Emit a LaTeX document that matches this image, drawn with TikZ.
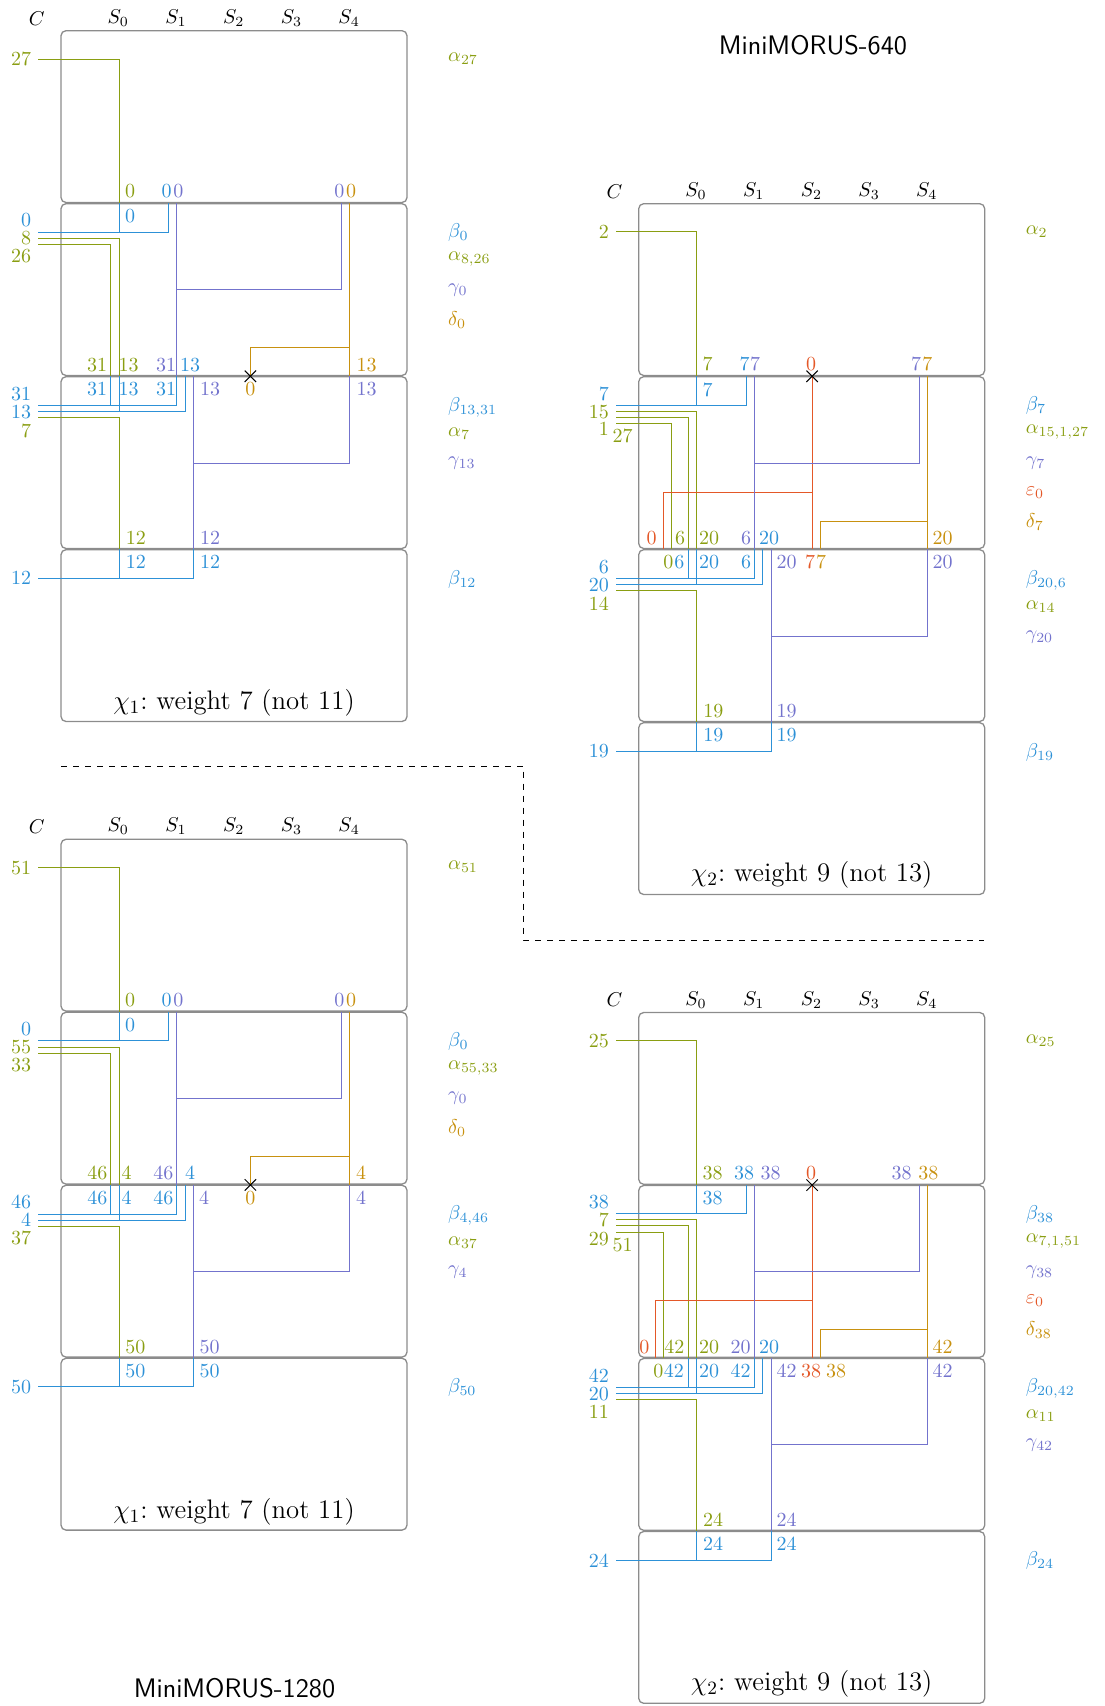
\RequirePackage{fix-cm}
\documentclass[tikz,border=0pt]{standalone}
\usetikzlibrary{shapes.misc}
\definecolor{cA}{RGB}{138,158,18}
\definecolor{cB}{RGB}{45,145,215}
\definecolor{cG}{RGB}{115,115,205}
\definecolor{cD}{RGB}{200,145,15}
\definecolor{cE}{RGB}{228,88,40}
% columns S_0..S_4, offset between neighbouring bits, round boundaries
\newcommand*{\sz}{119}
\newcommand*{\sone}{176.7}
\newcommand*{\stwo}{234.4}
\newcommand*{\sfour}{349.8}
\newcommand*{\dx}{8.3}
\newcommand*{\rowa}{203.3}
\newcommand*{\rowb}{376.3}
\newcommand*{\rowc}{549.3}
\newcommand*{\header}{%
  \node at (36.7,18.3) {$C$};
  \foreach \k in {0,...,4} \node at ({118.3+57.7*\k},18) {$S_{\k}$};
  \foreach \k in {0,...,3} \draw[boxline] (61,{30.7+173*\k}) rectangle (407,{202.5+173*\k});
}
\begin{document}
\begin{tikzpicture}[x=0.5pt,y=-0.5pt,line width=0.5pt,inner sep=1pt,
  boxline/.style={draw=black!45,line width=0.65pt,rounded corners=2.5pt},
  cut/.style={draw,cross out,minimum size=5.2pt,inner sep=0pt},
  big/.style={font=\fontsize{13.4}{16}\selectfont}]
\useasboundingbox (0,0) rectangle (1104,1706);

\node[font=\sffamily\fontsize{13.4}{16}\selectfont] (t640) at (813,45.5) {MiniMORUS-640};
\node[font=\sffamily\fontsize{13.4}{16}\selectfont] (t1280) at (234.5,1688) {MiniMORUS-1280};
\draw[dashed] (61,766) -| (523.5,940) -- (984.3,940);

%%% MiniMORUS-640, chi_1
\begin{scope}
\header
% round 1
\node[cA,left] at (33.6,59) {27};
\draw[cA] (38.3,59.3) -| (\sz,\rowa);
\node[cA] at (130,191.3) {0};
\node[cB] at (166.7,191.3) {0};
\node[cG] at (178.3,191.3) {0};
\node[cG] at (339.3,191.3) {0};
\node[cD] at (351,191.3) {0};
\node[cA,right] at (445.7,58.5) {$\alpha_{27}$};
% round 2
\node[cB,left] at (33.6,220) {0};
\node[cA,left] at (33.6,238.3) {8};
\node[cA,left] at (33.6,256.5) {26};
\draw[cB] (38.3,232.3) -| (\sone-\dx,\rowa) (\sz,\rowa) -- (\sz,232.3);
\draw[cA] (38.3,238.3) -| (\sz,\rowb);
\draw[cA] (38.3,244.3) -| (\sz-\dx,\rowb);
\draw[cG] (\sone,\rowa) -- (\sone,\rowb) (\sone,289.5) -| (\sfour-\dx,\rowa);
\draw[cD] (\sfour,\rowa) -- (\sfour,\rowb) (\sfour,347.7) -| (\stwo+16,\rowb);
\node[cut] at (\stwo+16,\rowb) {};
\node[cB] at (130,216.5) {0};
\node[cB,right] at (445.7,232.7) {$\beta_{0}$};
\node[cA,right] at (445.7,259.5) {$\alpha_{8,26}$};
\node[cG,right] at (445.7,289.8) {$\gamma_{0}$};
\node[cD,right] at (445.7,319.6) {$\delta_{0}$};
\node[cA] at (97,365) {31};
\node[cA] at (128.7,365) {13};
\node[cG] at (166.2,365) {31};
\node[cB] at (190,365) {13};
\node[cD] at (366.7,365) {13};
\node[cB] at (97,389.3) {31};
\node[cB] at (128.7,389.3) {13};
\node[cB] at (166.2,389.3) {31};
\node[cG] at (210,389.3) {13};
\node[cD] at (250.3,389.3) {0};
\node[cG] at (366.7,389.3) {13};
% round 3
\node[cB,left] at (33.6,394.3) {31};
\node[cB,left] at (33.6,412.5) {13};
\node[cA,left] at (33.6,430.7) {7};
\draw[cB] (38.3,405) -| (\sone,\rowb) (\sz-\dx,\rowb) -- (\sz-\dx,405);
\draw[cB] (38.3,411) -| (\sone+\dx,\rowb) (\sz,\rowb) -- (\sz,411);
\draw[cA] (38.3,417.3) -| (\sz,\rowc);
\draw[cG] (\sone+2*\dx,\rowb) -- (\sone+2*\dx,\rowc) (\sone+2*\dx,463.3) -| (\sfour,\rowb);
\node[cB,right] at (445.7,407) {$\beta_{13,31}$};
\node[cA,right] at (445.7,434) {$\alpha_{7}$};
\node[cG,right] at (445.7,463.5) {$\gamma_{13}$};
\node[cA] at (135.8,538) {12};
\node[cG] at (210,538) {12};
\node[cB] at (135.8,562) {12};
\node[cB] at (210,562) {12};
% round 4
\node[cB,left] at (33.6,578.3) {12};
\draw[cB] (38.3,578.3) -| (\sone+2*\dx,\rowc) (\sz,\rowc) -- (\sz,578.3);
\node[cB,right] at (445.7,579) {$\beta_{12}$};
\node[big] (chiA) at (234,703) {$\chi_1$:\ weight 7 (not 11)};
\end{scope}

%%% MiniMORUS-640, chi_2
\begin{scope}[shift={(577.7,173)}]
\header
% round 1
\node[cA,left] at (33.6,58.7) {2};
\draw[cA] (38.3,58.7) -| (\sz,\rowa);
\node[cA] at (130,191.3) {7};
\node[cB] at (167,191.3) {7};
\node[cG] at (177.3,191.3) {7};
\node[cE] at (233.3,191.3) {0};
\node[cG] at (338.5,191.3) {7};
\node[cD] at (349.6,191.3) {7};
\node[cA,right] at (445.7,58.5) {$\alpha_{2}$};
% round 2
\node[cB,left] at (33.6,221) {7};
\node[cA,left] at (33.6,239.3) {15};
\node[cA,left] at (33.6,256.3) {1};
\node[cA] at (45,262.7) {27};
\draw[cB] (38.3,232.3) -| (\sone-\dx,\rowa) (\sz,\rowa) -- (\sz,232.3);
\draw[cA] (38.3,238) -| (\sz,\rowb);
\draw[cA] (38.3,244) -| (\sz-\dx,\rowb);
\draw[cA] (38.3,250.3) -| (\sz-3*\dx,\rowb);
\draw[cE] (\stwo,\rowa) -- (\stwo,\rowb) (\stwo,319) -| (\sz-4*\dx,\rowb);
\draw[cG] (\sone,\rowa) -- (\sone,\rowb) (\sone,290.3) -| (\sfour-\dx,\rowa);
\draw[cD] (\sfour,\rowa) -- (\sfour,\rowb) (\sfour,348) -| (\stwo+\dx,\rowb);
\node[cut] at (\stwo,\rowa) {};
\node[cB] at (130,216.5) {7};
\node[cB,right] at (445.7,232.5) {$\beta_{7}$};
\node[cA,right] at (445.7,259) {$\alpha_{15,1,27}$};
\node[cG,right] at (445.7,290) {$\gamma_{7}$};
\node[cE,right] at (445.7,319.3) {$\varepsilon_{0}$};
\node[cD,right] at (445.7,348.7) {$\delta_{7}$};
\node[cE] at (74,365) {0};
\node[cA] at (102.3,365) {6};
\node[cA] at (131.3,365) {20};
\node[cG] at (168.5,365) {6};
\node[cB] at (191.3,365) {20};
\node[cD] at (365,365) {20};
\node[cA] at (90.6,389.3) {0};
\node[cB] at (101.6,389.3) {6};
\node[cB] at (131.3,389.3) {20};
\node[cB] at (168.5,389.3) {6};
\node[cG] at (209,389.3) {20};
\node[cE] at (232.3,389.3) {7};
\node[cD] at (243.3,389.3) {7};
\node[cG] at (365,389.3) {20};
% round 3
\node[cB,left] at (33.6,393.7) {6};
\node[cB,left] at (33.6,412) {20};
\node[cA,left] at (33.6,430.3) {14};
\draw[cB] (38.3,405.3) -| (\sone,\rowb) (\sz-\dx,\rowb) -- (\sz-\dx,405.3);
\draw[cB] (38.3,411.3) -| (\sone+\dx,\rowb) (\sz,\rowb) -- (\sz,411.3);
\draw[cA] (38.3,417.7) -| (\sz,\rowc);
\draw[cG] (\sone+2*\dx,\rowb) -- (\sone+2*\dx,\rowc) (\sone+2*\dx,463.7) -| (\sfour,\rowb);
\node[cB,right] at (445.7,407) {$\beta_{20,6}$};
\node[cA,right] at (445.7,433.7) {$\alpha_{14}$};
\node[cG,right] at (445.7,463.7) {$\gamma_{20}$};
\node[cA] at (135.6,538) {19};
\node[cG] at (209,538) {19};
\node[cB] at (135.6,562) {19};
\node[cB] at (209,562) {19};
% round 4
\node[cB,left] at (33.6,578.5) {19};
\draw[cB] (38.3,578.5) -| (\sone+2*\dx,\rowc) (\sz,\rowc) -- (\sz,578.5);
\node[cB,right] at (445.7,579.3) {$\beta_{19}$};
\node[big] (chiB) at (234,702) {$\chi_2$:\ weight 9 (not 13)};
\end{scope}

%%% MiniMORUS-1280, chi_1
\begin{scope}[shift={(0,808.6)}]
\header
% round 1
\node[cA,left] at (33.6,59) {51};
\draw[cA] (38.3,59.1) -| (\sz,\rowa);
\node[cA] at (130,191.3) {0};
\node[cB] at (166.7,191.3) {0};
\node[cG] at (178.3,191.3) {0};
\node[cG] at (339.3,191.3) {0};
\node[cD] at (351,191.3) {0};
\node[cA,right] at (445.7,58.5) {$\alpha_{51}$};
% round 2
\node[cB,left] at (33.6,220.7) {0};
\node[cA,left] at (33.6,238.7) {55};
\node[cA,left] at (33.6,256.4) {33};
\draw[cB] (38.3,232.1) -| (\sone-\dx,\rowa) (\sz,\rowa) -- (\sz,232.1);
\draw[cA] (38.3,238.4) -| (\sz,\rowb);
\draw[cA] (38.3,244.4) -| (\sz-\dx,\rowb);
\draw[cG] (\sone,\rowa) -- (\sone,\rowb) (\sone,289.7) -| (\sfour-\dx,\rowa);
\draw[cD] (\sfour,\rowa) -- (\sfour,\rowb) (\sfour,347.4) -| (\stwo+16,\rowb);
\node[cut] at (\stwo+16,\rowb) {};
\node[cB] at (130,216.5) {0};
\node[cB,right] at (445.7,232.7) {$\beta_{0}$};
\node[cA,right] at (445.7,259.5) {$\alpha_{55,33}$};
\node[cG,right] at (445.7,289.8) {$\gamma_{0}$};
\node[cD,right] at (445.7,319.6) {$\delta_{0}$};
\node[cA] at (97.3,364.5) {46};
\node[cA] at (126.7,364.5) {4};
\node[cG] at (163.3,364.5) {46};
\node[cB] at (190,364.5) {4};
\node[cD] at (361,364.5) {4};
\node[cB] at (97.3,389.5) {46};
\node[cB] at (126.7,389.5) {4};
\node[cB] at (163.3,389.5) {46};
\node[cG] at (204,389.5) {4};
\node[cD] at (250.3,389.5) {0};
\node[cG] at (361,389.5) {4};
% round 3
\node[cB,left] at (33.6,393.7) {46};
\node[cB,left] at (33.6,411.4) {4};
\node[cA,left] at (33.6,429.7) {37};
\draw[cB] (38.3,405.7) -| (\sone,\rowb) (\sz-\dx,\rowb) -- (\sz-\dx,405.7);
\draw[cB] (38.3,411.4) -| (\sone+\dx,\rowb) (\sz,\rowb) -- (\sz,411.4);
\draw[cA] (38.3,417.4) -| (\sz,\rowc);
\draw[cG] (\sone+2*\dx,\rowb) -- (\sone+2*\dx,\rowc) (\sone+2*\dx,463) -| (\sfour,\rowb);
\node[cB,right] at (445.7,407) {$\beta_{4,46}$};
\node[cA,right] at (445.7,434) {$\alpha_{37}$};
\node[cG,right] at (445.7,463.5) {$\gamma_{4}$};
\node[cA] at (135.3,538) {50};
\node[cG] at (209.5,538) {50};
\node[cB] at (135.3,562.4) {50};
\node[cB] at (209.5,562.4) {50};
% round 4
\node[cB,left] at (33.6,578.3) {50};
\draw[cB] (38.3,578.3) -| (\sone+2*\dx,\rowc) (\sz,\rowc) -- (\sz,578.3);
\node[cB,right] at (445.7,579) {$\beta_{50}$};
\node[big] (chiC) at (234,703) {$\chi_1$:\ weight 7 (not 11)};
\end{scope}

%%% MiniMORUS-1280, chi_2
\begin{scope}[shift={(577.7,981.8)}]
\header
% round 1
\node[cA,left] at (33.6,59) {25};
\draw[cA] (38.3,58.7) -| (\sz,\rowa);
\node[cA] at (135,191.3) {38};
\node[cB] at (166.3,191.3) {38};
\node[cG] at (193,191.3) {38};
\node[cE] at (233.3,191.3) {0};
\node[cG] at (324,191.3) {38};
\node[cD] at (350.6,191.3) {38};
\node[cA,right] at (445.7,58.5) {$\alpha_{25}$};
% round 2
\node[cB,left] at (33.6,220.3) {38};
\node[cA,left] at (33.6,238) {7};
\node[cA,left] at (33.6,257) {29};
\node[cA] at (45,263.2) {51};
\draw[cB] (38.3,232) -| (\sone-\dx,\rowa) (\sz,\rowa) -- (\sz,232);
\draw[cA] (38.3,238) -| (\sz,\rowb);
\draw[cA] (38.3,244) -| (\sz-\dx,\rowb);
\draw[cA] (38.3,250.3) -| (\sz-4*\dx,\rowb);
\draw[cE] (\stwo,\rowa) -- (\stwo,\rowb) (\stwo,318.7) -| (\sz-5*\dx,\rowb);
\draw[cG] (\sone,\rowa) -- (\sone,\rowb) (\sone,289.7) -| (\sfour-\dx,\rowa);
\draw[cD] (\sfour,\rowa) -- (\sfour,\rowb) (\sfour,347.3) -| (\stwo+\dx,\rowb);
\node[cut] at (\stwo,\rowa) {};
\node[cB] at (135,216.5) {38};
\node[cB,right] at (445.7,232.5) {$\beta_{38}$};
\node[cA,right] at (445.7,259.5) {$\alpha_{7,1,51}$};
\node[cG,right] at (445.7,290) {$\gamma_{38}$};
\node[cE,right] at (445.7,319.3) {$\varepsilon_{0}$};
\node[cD,right] at (445.7,348.5) {$\delta_{38}$};
\node[cE] at (66.6,365) {0};
\node[cA] at (96.6,365) {42};
\node[cA] at (131.3,365) {20};
\node[cG] at (163,365) {20};
\node[cB] at (191.3,365) {20};
\node[cD] at (365,365) {42};
\node[cA] at (80.6,389.3) {0};
\node[cB] at (96.2,389.3) {42};
\node[cB] at (131.3,389.3) {20};
\node[cB] at (163,389.3) {42};
\node[cG] at (209,389.3) {42};
\node[cE] at (233.3,389.3) {38};
\node[cD] at (258.3,389.3) {38};
\node[cG] at (365,389.3) {42};
% round 3
\node[cB,left] at (33.6,393.7) {42};
\node[cB,left] at (33.6,412) {20};
\node[cA,left] at (33.6,430.3) {11};
\draw[cB] (38.3,405.3) -| (\sone,\rowb) (\sz-\dx,\rowb) -- (\sz-\dx,405.3);
\draw[cB] (38.3,411.3) -| (\sone+\dx,\rowb) (\sz,\rowb) -- (\sz,411.3);
\draw[cA] (38.3,417.7) -| (\sz,\rowc);
\draw[cG] (\sone+2*\dx,\rowb) -- (\sone+2*\dx,\rowc) (\sone+2*\dx,463) -| (\sfour,\rowb);
\node[cB,right] at (445.7,407) {$\beta_{20,42}$};
\node[cA,right] at (445.7,433.5) {$\alpha_{11}$};
\node[cG,right] at (445.7,463.3) {$\gamma_{42}$};
\node[cA] at (135.3,538) {24};
\node[cG] at (209,538) {24};
\node[cB] at (135.3,562) {24};
\node[cB] at (209,562) {24};
% round 4
\node[cB,left] at (33.6,578.5) {24};
\draw[cB] (38.3,578.5) -| (\sone+2*\dx,\rowc) (\sz,\rowc) -- (\sz,578.5);
\node[cB,right] at (445.7,579) {$\beta_{24}$};
\node[big] (chiD) at (234,702) {$\chi_2$:\ weight 9 (not 13)};
\end{scope}
\end{tikzpicture}
\end{document}
